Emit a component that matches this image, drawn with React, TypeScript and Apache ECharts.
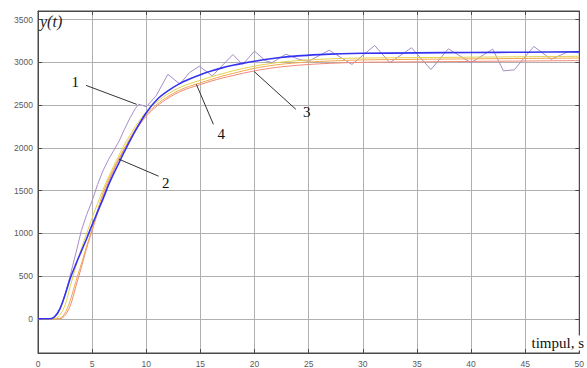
import React, { useEffect, useRef } from "react";
import * as echarts from "echarts";

// x ticks / y tick labels
const X_MIN = 0;
const X_MAX = 50;
const X_INTERVAL = 5;
const Y_MIN = -400;
const Y_MAX = 3600;
const Y_TICKS = [0, 500, 1000, 1500, 2000, 2500, 3000, 3500];

// series 1: oscillating (purple)
const T_PURPLE = [0, 1.3, 1.8, 2.3, 2.8, 3.2, 3.6, 4.0, 4.5, 5.0, 5.5, 6.0, 6.5, 7.0, 7.5, 8.0, 8.5, 9.0, 9.3, 10.0, 10.9, 12.0, 13.1, 14.0, 14.9, 16.1, 17.0, 18.0, 18.9, 20.0, 21.0, 21.6, 22.9, 24.1, 25.0, 26.9, 29.0, 31.1, 32.5, 34.5, 36.3, 37.9, 40.0, 42.0, 43.0, 44.0, 45.8, 47.4, 49.0, 50.0];
const V_PURPLE = [0, 0, 50, 200, 420, 620, 820, 1030, 1220, 1380, 1570, 1730, 1860, 1970, 2080, 2220, 2350, 2460, 2510, 2480, 2605, 2860, 2745, 2880, 2955, 2840, 2960, 3090, 2975, 3130, 3020, 2995, 3095, 3035, 3012, 3142, 2975, 3197, 2995, 3170, 2915, 3158, 2995, 3155, 2900, 2912, 3186, 3035, 3125, 3110];

// series 2: blue
const T_BLUE = [0, 1.0, 1.5, 2.0, 2.5, 3.0, 3.5, 4.0, 4.5, 5.0, 5.5, 6.0, 6.5, 7.0, 7.5, 8.0, 9.0, 10.0, 11.0, 12.0, 13.0, 14.0, 15.0, 16.0, 17.0, 18.0, 19.0, 20.0, 22.0, 24.0, 26.0, 28.0, 30.0, 35.0, 40.0, 45.0, 50.0];
const V_BLUE = [0, 0, 20, 110, 280, 480, 640, 790, 940, 1100, 1250, 1400, 1560, 1700, 1830, 1960, 2200, 2410, 2565, 2665, 2745, 2805, 2855, 2898, 2935, 2965, 2990, 3012, 3050, 3075, 3090, 3100, 3105, 3110, 3115, 3118, 3122];

// series 3: yellow
const T_YELLOW = [0, 1.5, 2.0, 2.5, 3.0, 3.5, 4.0, 4.5, 5.0, 6.0, 7.0, 8.0, 9.0, 10.0, 11.0, 12.0, 13.0, 14.0, 15.0, 16.0, 17.0, 18.0, 20.0, 22.0, 24.0, 26.0, 28.0, 30.0, 35.0, 40.0, 45.0, 50.0];
const V_YELLOW = [0, 0, 40, 160, 390, 610, 820, 1000, 1180, 1510, 1790, 2040, 2250, 2420, 2540, 2630, 2700, 2750, 2790, 2830, 2865, 2900, 2955, 2995, 3020, 3035, 3045, 3050, 3055, 3060, 3065, 3070];

// series 4: orange
const T_ORANGE = [0, 1.8, 2.3, 2.8, 3.3, 3.7, 4.0, 4.5, 5.0, 6.0, 7.0, 8.0, 9.0, 10.0, 11.0, 12.0, 13.0, 14.0, 15.0, 16.0, 17.0, 18.0, 20.0, 22.0, 24.0, 26.0, 28.0, 30.0, 35.0, 40.0, 45.0, 50.0];
const V_ORANGE = [0, 0, 30, 150, 350, 520, 640, 850, 1050, 1470, 1760, 2000, 2220, 2390, 2510, 2600, 2670, 2720, 2760, 2800, 2838, 2870, 2930, 2970, 2995, 3010, 3020, 3028, 3035, 3040, 3045, 3050];

// series 5: salmon
const T_SALMON = [0, 2.0, 2.5, 3.0, 3.5, 4.0, 4.5, 5.0, 6.0, 7.0, 8.0, 9.0, 10.0, 11.0, 12.0, 13.0, 14.0, 15.0, 16.0, 17.0, 18.0, 20.0, 22.0, 24.0, 26.0, 28.0, 30.0, 35.0, 40.0, 45.0, 50.0];
const V_SALMON = [0, 0, 40, 160, 380, 600, 830, 1030, 1430, 1740, 1990, 2200, 2370, 2490, 2580, 2650, 2700, 2740, 2780, 2815, 2845, 2900, 2940, 2965, 2982, 2993, 3000, 3005, 3010, 3015, 3020];

// annotation labels (data coordinates)
const ANNOT_TEXT = ["1", "2", "4", "3"];
const ANNOT_TEXT_AT = [[3.43, 2765], [11.79, 1587], [16.93, 2158], [24.83, 2415]];
const ANNOT_LINE_FROM = [[4.44, 2730], [7.47, 1867], [14.63, 2742], [19.96, 2893]];
const ANNOT_LINE_TO = [[9.12, 2508], [11.14, 1668], [16.2, 2275], [23.82, 2450]];

const zip = (t: number[], v: number[]) => t.map((x, i) => [x, v[i]]);

export default function App() {
  const ref = useRef<HTMLDivElement>(null);
  useEffect(() => {
    if (!ref.current) return;
    const chart = echarts.init(ref.current, undefined, { renderer: "svg" });
    const gridColor = "#b0b0b0";
    const frame = "#4a4a4a";
    const labelStyle = {
      color: "#5a5a5a",
      fontSize: 8.5,
      fontFamily: "Liberation Sans, Arial, sans-serif",
      formatter: (v: number) => String(v),
    };
    const line = (name: string, data: number[][], color: string, width: number, smooth: number | boolean, z: number) => ({
      name,
      type: "line",
      data,
      showSymbol: false,
      symbol: "none",
      smooth,
      z,
      lineStyle: { color, width },
    });
    chart.setOption({
      animation: false,
      backgroundColor: "#ffffff",
      grid: { left: 38, right: 5, top: 11, bottom: 15, show: true, borderColor: frame, borderWidth: 1 },
      xAxis: [
        {
          type: "value",
          min: X_MIN,
          max: X_MAX,
          interval: X_INTERVAL,
          axisLine: { show: true, onZero: false, lineStyle: { color: frame } },
          axisTick: { show: true, inside: true, length: 4, lineStyle: { color: frame } },
          axisLabel: { ...labelStyle, margin: 6 },
          splitLine: { show: true, lineStyle: { color: gridColor, width: 1 } },
        },
        {
          type: "value",
          position: "top",
          min: X_MIN,
          max: X_MAX,
          interval: X_INTERVAL,
          axisLine: { show: true, onZero: false, lineStyle: { color: frame } },
          axisTick: { show: true, inside: true, length: 4, lineStyle: { color: frame } },
          axisLabel: { show: false },
          splitLine: { show: false },
        },
      ],
      yAxis: [
        {
          type: "value",
          min: Y_MIN,
          max: Y_MAX,
          axisLine: { show: true, onZero: false, lineStyle: { color: frame } },
          axisTick: { show: true, inside: true, length: 4, customValues: Y_TICKS, lineStyle: { color: frame } },
          axisLabel: { ...labelStyle, margin: 5, customValues: Y_TICKS },
          splitLine: { show: true, lineStyle: { color: gridColor, width: 1 } },
        },
        {
          type: "value",
          position: "right",
          min: Y_MIN,
          max: Y_MAX,
          axisLine: { show: true, onZero: false, lineStyle: { color: frame } },
          axisTick: { show: true, inside: true, length: 4, customValues: Y_TICKS, lineStyle: { color: frame } },
          axisLabel: { show: false, customValues: Y_TICKS },
          splitLine: { show: false },
        },
      ],
      series: [
        line("1", zip(T_PURPLE, V_PURPLE), "#a68cc8", 1, false, 2),
        line("salmon", zip(T_SALMON, V_SALMON), "#ef8878", 1, 0.3, 3),
        line("orange", zip(T_ORANGE, V_ORANGE), "#f2a84c", 1, 0.3, 4),
        line("yellow", zip(T_YELLOW, V_YELLOW), "#e4d24a", 1, 0.3, 5),
        line("blue", zip(T_BLUE, V_BLUE), "#3434f0", 1.6, 0.3, 6),
      ],
    });

    const px = (p: number[]) => chart.convertToPixel({ gridIndex: 0 }, p) as number[];
    const elements: any[] = [];
    ANNOT_TEXT.forEach((txt, i) => {
      const a = px(ANNOT_LINE_FROM[i]);
      const b = px(ANNOT_LINE_TO[i]);
      const c = px(ANNOT_TEXT_AT[i]);
      elements.push({
        type: "line",
        z: 20,
        shape: { x1: a[0], y1: a[1], x2: b[0], y2: b[1] },
        style: { stroke: "#333333", lineWidth: 1 },
      });
      elements.push({
        type: "text",
        z: 20,
        x: c[0],
        y: c[1],
        style: {
          text: txt,
          fill: "#111111",
          font: "15px 'Liberation Serif', 'Times New Roman', serif",
          align: "center",
          verticalAlign: "middle",
        },
      });
    });
    elements.push({
      type: "text",
      z: 20,
      x: 40,
      y: 21,
      style: {
        text: "y(t)",
        fill: "#222222",
        font: "italic 16px 'Liberation Serif', 'Times New Roman', serif",
        align: "left",
        verticalAlign: "middle",
      },
    });
    elements.push({
      type: "text",
      z: 20,
      x: 584,
      y: 343,
      style: {
        text: "timpul, s",
        fill: "#111111",
        font: "15px 'Liberation Serif', 'Times New Roman', serif",
        align: "right",
        verticalAlign: "middle",
        backgroundColor: "#ffffff",
      },
    });
    chart.setOption({ graphic: { elements } });

    return () => chart.dispose();
  }, []);
  return (
    <div
      ref={ref}
      style={{ position: "fixed", left: 0, top: 0, width: 587, height: 368, background: "#fff" }}
    />
  );
}
